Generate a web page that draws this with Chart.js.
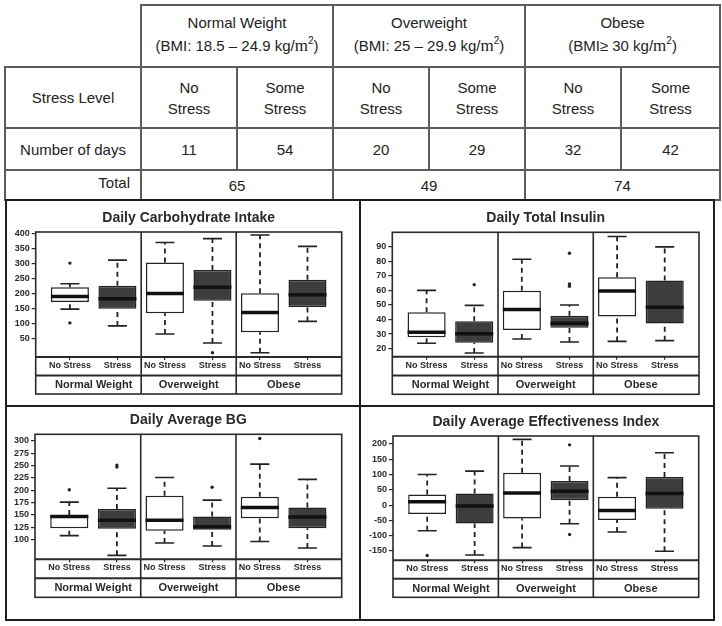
<!DOCTYPE html>
<html>
<head>
<meta charset="utf-8">
<script src="https://cdn.jsdelivr.net/npm/chart.js@4.4.1/dist/chart.umd.min.js"></script>
<style>
  body { margin: 0; width: 722px; height: 626px; background: #fff; position: relative; overflow: hidden; }
  #days { position: absolute; left: 4px; top: 4px; border-collapse: collapse; table-layout: fixed; width: 715px;
          font-family: 'Liberation Sans', Arial, sans-serif; font-size: 15px; color: #222; }
  #days td { border: 2px solid #5c5c5c; text-align: center; vertical-align: middle; padding: 0; line-height: 21px; }
  #days td.blank { border-top: none; border-left: none; }
  #days td.head { line-height: 23px; padding-bottom: 5px; }
  #days td.total { text-align: right; padding-right: 10px; padding-bottom: 5px; }
  #days td.sum { padding-top: 1px; }
  #days .m { font-family: 'Liberation Serif', serif; font-size: 17px; }
  #days sup { font-size: 10px; line-height: 0; vertical-align: 7px; }
  .line { position: absolute; background: #1e1e1e; }
  canvas { position: absolute; }
</style>
</head>
<body>
<table id="days"></table>
<div class="line" style="left:5px;top:199px;width:710px;height:2px"></div>
<div class="line" style="left:5px;top:619px;width:710px;height:2px"></div>
<div class="line" style="left:5px;top:199px;width:2px;height:422px"></div>
<div class="line" style="left:713px;top:199px;width:2px;height:422px"></div>
<div class="line" style="left:359px;top:199px;width:2px;height:422px"></div>
<div class="line" style="left:5px;top:405px;width:710px;height:2px"></div>
<script>
// table
const bmiGroups = ['Normal Weight', 'Overweight', 'Obese'];
const bmiRanges = ['BMI: 18.5 – 24.9', 'BMI: 25 – 29.9', 'BMI≥ 30'];
const stressLevels = ['No Stress', 'Some Stress'];
const dayCounts = [11, 54, 20, 29, 32, 42];
const dayTotals = [65, 49, 74];

// box plots: six boxes, No Stress / Stress inside each weight group
const boxPositions = [1, 2, 3, 4, 5, 6];
const stressLabels = ['No Stress', 'Stress', 'No Stress', 'Stress', 'No Stress', 'Stress'];
const weightGroups = ['Normal Weight', 'Overweight', 'Obese'];

const carbTicks = [50, 100, 150, 200, 250, 300, 350, 400];
const carbLow  = [148, 92, 65, 35, 2, 107];
const carbQ1   = [172, 149, 134, 176, 71, 155];
const carbMed  = [190, 183, 200, 221, 137, 196];
const carbQ3   = [221, 226, 304, 279, 201, 246];
const carbHigh = [233, 312, 371, 384, 396, 358];
const carbOut  = [[302, 102], [], [], [2], [], []];

const insulinTicks = [20, 30, 40, 50, 60, 70, 80, 90];
const insulinLow  = [23.7, 17, 26.6, 24.6, 25, 25.5];
const insulinQ1   = [27.8, 24.1, 32.8, 34.4, 42, 37.2];
const insulinMed  = [31.2, 30.3, 46.8, 37.4, 59.6, 48.4];
const insulinQ3   = [44.9, 38.8, 59.8, 42.6, 69, 66.7];
const insulinHigh = [60, 49.7, 81.3, 50, 96.9, 89.8];
const insulinOut  = [[], [63.9], [], [85.4, 64.4, 62.8], [], []];

const bgTicks = [100, 125, 150, 175, 200, 225, 250, 275, 300];
const bgLow  = [108, 68, 93, 87, 96, 83];
const bgQ1   = [123, 122, 118, 120, 143, 123];
const bgMed  = [147, 139, 139, 126, 165, 146];
const bgQ3   = [150, 162, 189, 147, 187, 165];
const bgHigh = [176, 204, 226, 180, 253, 222];
const bgOut  = [[201], [251, 247], [], [206], [305], []];

const effTicks = [-150, -100, -50, 0, 50, 100, 150, 200];
const effLow  = [-84, -163, -139, -61, -88, -151];
const effQ1   = [-29, -60, -44, 16, -49, -12];
const effMed  = [11, -3, 40, 45, -18, 38];
const effQ3   = [35, 38, 106, 79, 27, 92];
const effHigh = [100, 111, 215, 128, 90, 171];
const effOut  = [[-165], [], [], [197, -96], [], []];

// build the table
let html = '<colgroup>' + [136, 96, 96, 96, 96, 96, 99].map(w => `<col style="width:${w}px">`).join('') + '</colgroup>';
html += '<tr style="height:62px"><td class="blank"></td>' + bmiGroups.map((g, i) =>
  `<td colspan="2" class="head">${g}<br>(${bmiRanges[i]} kg/<span class="m">m</span><sup>2</sup>)</td>`).join('') + '</tr>';
html += '<tr style="height:61px"><td>Stress Level</td>' + bmiGroups.map(() =>
  stressLevels.map(s => `<td>${s.replace(' ', '<br>')}</td>`).join('')).join('') + '</tr>';
html += '<tr style="height:42px"><td>Number of days</td>' + dayCounts.map(n => `<td>${n}</td>`).join('') + '</tr>';
html += '<tr style="height:30px"><td class="total">Total</td>' + dayTotals.map(n => `<td colspan="2" class="sum">${n}</td>`).join('') + '</tr>';
document.getElementById('days').innerHTML = html;

const font = "'Liberation Sans', Arial, sans-serif";
const ink = '#2a2a2a';
const boxFills = ['#ffffff', '#3d3d3d'];

// frame around the plot plus the two label rows underneath
const groupFrame = {
  id: 'groupFrame',
  afterDraw(chart, args, o) {
    const { ctx, chartArea: a, scales: { x } } = chart;
    const bottom = a.bottom + o.band;
    const split = a.bottom + o.band / 2;
    ctx.save();
    ctx.strokeStyle = ink;
    ctx.lineWidth = 1.6;
    ctx.strokeRect(a.left, a.top, a.right - a.left, bottom - a.top);
    ctx.lineWidth = 2;
    ctx.beginPath();
    ctx.moveTo(a.left, a.bottom); ctx.lineTo(a.right, a.bottom);
    ctx.moveTo(a.left, split); ctx.lineTo(a.right, split);
    ctx.stroke();
    ctx.lineWidth = 1.6;
    ctx.beginPath();
    for (let g = 0; g < weightGroups.length - 1; g++) {
      const px = x.getPixelForValue((boxPositions[2 * g + 1] + boxPositions[2 * g + 2]) / 2);
      ctx.moveTo(px, a.top); ctx.lineTo(px, bottom);
    }
    ctx.stroke();
    ctx.fillStyle = ink;
    ctx.font = 'bold 11px ' + font;
    ctx.textAlign = 'center';
    ctx.textBaseline = 'middle';
    weightGroups.forEach((g, i) => {
      const px = x.getPixelForValue((boxPositions[2 * i] + boxPositions[2 * i + 1]) / 2);
      ctx.fillText(g, px, (split + bottom) / 2 + 0.5);
    });
    ctx.restore();
  }
};

function boxPlot(title, ticks, yMin, yMax, low, q1, med, q3, high, out, place) {
  const [cx, cy, cw, ch] = place.canvas;
  const [L, T, R, B] = place.plot;
  const cv = document.createElement('canvas');
  cv.width = cw; cv.height = ch;
  cv.style.left = cx + 'px'; cv.style.top = cy + 'px';
  cv.style.width = cw + 'px'; cv.style.height = ch + 'px';
  document.body.appendChild(cv);

  const gap = (i) => ({ x: boxPositions[i], y: null });
  const whiskers = boxPositions.flatMap((p, i) => [
    { x: p, y: low[i] }, { x: p, y: q1[i] }, gap(i),
    { x: p, y: q3[i] }, { x: p, y: high[i] }, gap(i)]);
  const caps = boxPositions.flatMap((p, i) => [
    { x: p - 0.2, y: low[i] }, { x: p + 0.2, y: low[i] }, gap(i),
    { x: p - 0.2, y: high[i] }, { x: p + 0.2, y: high[i] }, gap(i)]);
  const medians = boxPositions.flatMap((p, i) => [
    { x: p - 0.4, y: med[i] }, { x: p + 0.4, y: med[i] }, gap(i)]);
  const outliers = out.flatMap((vals, i) => vals.map(v => ({ x: boxPositions[i], y: v })));

  const titleTop = place.titleY - cy - 8.4;
  new Chart(cv, {
    type: 'bar',
    data: {
      datasets: [
        {
          type: 'bar',
          data: boxPositions.map((p, i) => ({ x: p, y: [q1[i], q3[i]] })),
          backgroundColor: boxPositions.map((p, i) => boxFills[i % 2]),
          borderColor: '#222',
          borderWidth: 1.5,
          borderSkipped: false,
          barPercentage: 0.8,
          categoryPercentage: 1,
          order: 4
        },
        { type: 'line', data: whiskers, borderColor: '#222', borderWidth: 1.8, borderDash: [5, 4], pointRadius: 0, order: 3 },
        { type: 'line', data: caps, borderColor: '#222', borderWidth: 1.6, pointRadius: 0, order: 2 },
        { type: 'line', data: outliers, showLine: false, pointRadius: 1.7, pointBackgroundColor: '#222', pointBorderWidth: 0, order: 1 },
        { type: 'line', data: medians, borderColor: '#111', borderWidth: 3.5, pointRadius: 0, order: 0 }
      ]
    },
    options: {
      responsive: false,
      animation: false,
      layout: { padding: { left: 0, top: 0, right: cx + cw - R, bottom: cy + ch - place.band } },
      plugins: {
        legend: { display: false },
        tooltip: { enabled: false },
        title: {
          display: true,
          text: title,
          fullSize: false,
          color: ink,
          font: { family: font, size: 14, weight: 'bold' },
          padding: { top: titleTop, bottom: T - cy - titleTop - 16.8 }
        },
        groupFrame: { band: place.band - B }
      },
      scales: {
        x: {
          type: 'linear',
          min: 0.28,
          max: 6.72,
          offset: false,
          afterBuildTicks: (s) => { s.ticks = boxPositions.map(v => ({ value: v })); },
          afterFit: (s) => { s.height = place.band - B; },
          grid: { display: true, offset: false, drawOnChartArea: false, drawTicks: true, tickLength: 3, color: ink, lineWidth: 1.2 },
          border: { display: false },
          ticks: {
            autoSkip: false, maxRotation: 0, padding: 0, color: ink,
            font: { family: font, size: 9, weight: 'bold' },
            callback: (v, i) => stressLabels[i]
          }
        },
        y: {
          type: 'linear',
          min: yMin,
          max: yMax,
          beginAtZero: false,
          afterBuildTicks: (s) => { s.ticks = ticks.map(v => ({ value: v })); },
          afterFit: (s) => { s.width = L - cx; },
          grid: { display: true, drawOnChartArea: false, drawTicks: true, tickLength: 4, color: ink, lineWidth: 1.2 },
          border: { display: false },
          ticks: {
            padding: 2, color: ink,
            font: { family: font, size: 9, weight: 'bold' },
            callback: (v) => String(v)
          }
        }
      }
    },
    plugins: [groupFrame]
  });
}

boxPlot('Daily Carbohydrate Intake', carbTicks, -12, 406,
  carbLow, carbQ1, carbMed, carbQ3, carbHigh, carbOut,
  { canvas: [8, 202, 351, 203], plot: [35.7, 232, 341.7, 357], band: 394, titleY: 218 });
boxPlot('Daily Total Insulin', insulinTicks, 14.5, 99.8,
  insulinLow, insulinQ1, insulinMed, insulinQ3, insulinHigh, insulinOut,
  { canvas: [362, 202, 351, 203], plot: [392.3, 232.3, 699, 356.7], band: 394.3, titleY: 218 });
boxPlot('Daily Average BG', bgTicks, 60, 313.5,
  bgLow, bgQ1, bgMed, bgQ3, bgHigh, bgOut,
  { canvas: [8, 408, 351, 211], plot: [35, 434.3, 341.7, 559.3], band: 597.3, titleY: 420 });
boxPlot('Daily Average Effectiveness Index', effTicks, -180.5, 226,
  effLow, effQ1, effMed, effQ3, effHigh, effOut,
  { canvas: [362, 408, 351, 211], plot: [393, 436, 698.7, 560.3], band: 597.3, titleY: 421.7 });
</script>
</body>
</html>
